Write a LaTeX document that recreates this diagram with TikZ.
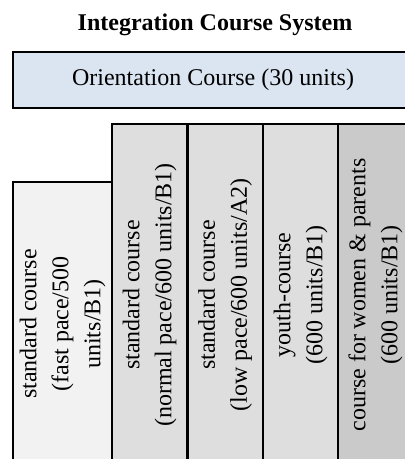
\documentclass[tikz,border=0pt]{standalone}
\usepackage{fontspec,xcolor,tikz}
\setmainfont{Liberation Serif}
\usetikzlibrary{arrows.meta,calc,positioning}
\definecolor{orientblue}{HTML}{DBE5F1}
\definecolor{fastgray}{HTML}{F2F2F2}
\definecolor{stdgray}{HTML}{DEDEDE}
\definecolor{womgray}{HTML}{CACACA}

\begin{document}
\begin{tikzpicture}[x=0.5pt,y=-0.5pt,every node/.style={font=\fontsize{12}{16}\selectfont},
 course/.style={draw,line width=1pt,align=center,inner sep=0pt,rotate=90,minimum height=37.5pt}]
\useasboundingbox (0,0) rectangle (405,459);
\node[font=\fontsize{12}{16}\selectfont\bfseries] (title) at (215,25) {Integration Course System};
\node[draw,line width=1.3pt,fill=orientblue,minimum width=200pt,minimum height=28pt] (orient) at (213,80)
 {Orientation Course (30 units)};
\node[course,fill=fastgray,minimum width=142pt,minimum height=49.5pt] (fast) at (62.5,324)
 {standard course\\(fast pace/500\\units/B1)};
\node[course,fill=stdgray,minimum width=171pt] (normal) at (149.5,295)
 {standard course\\(normal pace/600 units/B1)};
\node[course,fill=stdgray,minimum width=171pt] (low) at (225,295)
 {standard course\\(low pace/600 units/A2)};
\node[course,fill=stdgray,minimum width=171pt] (youth) at (300.5,295)
 {youth-course\\(600 units/B1)};
\node[course,fill=womgray,minimum width=171pt] (women) at (375.5,295)
 {course for women \& parents\\(600 units/B1)};
\end{tikzpicture}
\end{document}
